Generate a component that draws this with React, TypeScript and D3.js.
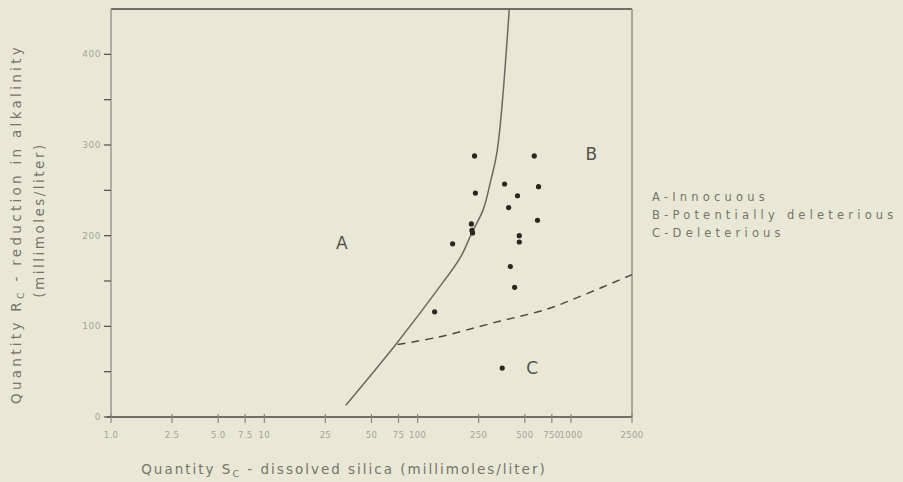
import React from "react";
import * as d3 from "d3";

// boundary between A and B (solid curve)
const boundaryAB = [
  { s: 34, r: 13 },
  { s: 72, r: 80 },
  { s: 147, r: 149 },
  { s: 190, r: 176 },
  { s: 227, r: 204 },
  { s: 268, r: 229 },
  { s: 298, r: 259 },
  { s: 331, r: 295 },
  { s: 396, r: 451 },
];

// boundary between B and C (dashed curve)
const boundaryBC = [
  { s: 74, r: 80 },
  { s: 135, r: 88 },
  { s: 331, r: 105 },
  { s: 700, r: 119 },
  { s: 1148, r: 133 },
  { s: 2500, r: 157 },
];

const samples = [
  { s: 235, r: 288 },
  { s: 576, r: 288 },
  { s: 369, r: 257 },
  { s: 614, r: 254 },
  { s: 448, r: 244 },
  { s: 238, r: 247 },
  { s: 392, r: 231 },
  { s: 605, r: 217 },
  { s: 224, r: 213 },
  { s: 226, r: 206 },
  { s: 228, r: 203 },
  { s: 169, r: 191 },
  { s: 460, r: 200 },
  { s: 460, r: 193 },
  { s: 402, r: 166 },
  { s: 429, r: 143 },
  { s: 129, r: 116 },
  { s: 356, r: 54 },
];

const xTicks = [1, 2.5, 5, 7.5, 10, 25, 50, 75, 100, 250, 500, 750, 1000, 2500];
const xTickLabels = ["1.0", "2.5", "5.0", "7.5", "10", "25", "50", "75", "100", "250", "500", "750", "1000", "2500"];
const yTicks = [0, 50, 100, 150, 200, 250, 300, 350, 400];
const yTickLabels = [0, 100, 200, 300, 400];

const zones = [
  { name: "A", s: 32, r: 192 },
  { name: "B", s: 1356, r: 290 },
  { name: "C", s: 559, r: 54 },
];
const legend = ["A-Innocuous", "B-Potentially deleterious", "C-Deleterious"];

export default function App() {
  const W = 903;
  const H = 482;
  const left = 111;
  const right = 632;
  const top = 9;
  const bottom = 417;

  const x = d3.scaleLog().domain([1, 2500]).range([left, right]);
  const y = d3.scaleLinear().domain([0, 450]).range([bottom, top]);

  const line = d3
    .line<{ s: number; r: number }>()
    .x((d) => x(d.s))
    .y((d) => y(d.r))
    .curve(d3.curveCatmullRom.alpha(0.5));

  const font = "'DejaVu Sans', sans-serif";
  const tickColor = "#a3a397";
  const textColor = "#76746b";

  return (
    <svg
      width={W}
      height={H}
      style={{ position: "absolute", left: 0, top: 0 }}
      fontFamily={font}
    >
      <rect width={W} height={H} fill="#e9e8d6" />

      {/* frame */}
      <line x1={left} x2={right} y1={top} y2={top} stroke="#4a4541" strokeWidth={1.3} />
      <line x1={right} x2={right} y1={top} y2={bottom} stroke="#8d8a82" strokeWidth={1.4} />
      <line x1={left} x2={left} y1={top} y2={bottom} stroke="#8d8a82" strokeWidth={1.3} />
      <line x1={left - 4} x2={right} y1={bottom} y2={bottom} stroke="#4a4541" strokeWidth={1.3} />

      {/* y axis */}
      {yTicks.map((t) => (
        <line key={"yt" + t} x1={left - 7} x2={left} y1={y(t)} y2={y(t)} stroke="#5d5852" strokeWidth={1.3} />
      ))}
      {yTickLabels.map((t) => (
        <text
          key={"yl" + t}
          x={left - 10}
          y={y(t)}
          dy="0.35em"
          textAnchor="end"
          fontSize={9}
          fill={tickColor}
          letterSpacing={0.5}
        >
          {t}
        </text>
      ))}

      {/* x axis */}
      {xTicks.map((t, i) => (
        <g key={"xt" + t}>
          <line x1={x(t)} x2={x(t)} y1={bottom - 3} y2={bottom + 6} stroke="#8a867e" strokeWidth={1.2} />
          <text
            x={x(t)}
            y={bottom + 21}
            textAnchor="middle"
            fontSize={8.5}
            fill={tickColor}
            letterSpacing={0.3}
          >
            {xTickLabels[i]}
          </text>
        </g>
      ))}

      {/* boundaries */}
      <path d={line(boundaryAB) || ""} fill="none" stroke="#6c6862" strokeWidth={1.5} />
      <path
        d={line(boundaryBC) || ""}
        fill="none"
        stroke="#4e4a45"
        strokeWidth={1.5}
        strokeDasharray="8,6"
      />

      {/* samples */}
      {samples.map((d, i) => (
        <circle key={"p" + i} cx={x(d.s)} cy={y(d.r)} r={2.6} fill="#2c2622" />
      ))}

      {/* zone labels */}
      {zones.map((z) => (
        <text
          key={z.name}
          x={x(z.s)}
          y={y(z.r)}
          dy="0.35em"
          textAnchor="middle"
          fontSize={17}
          fill="#55524c"
        >
          {z.name}
        </text>
      ))}

      {/* legend */}
      {legend.map((l, i) => (
        <text
          key={l}
          x={652}
          y={201 + i * 18}
          fontSize={11.5}
          fill={textColor}
          letterSpacing={4.2}
        >
          {l}
        </text>
      ))}

      {/* axis titles */}
      <text
        transform="translate(21,224) rotate(-90)"
        textAnchor="middle"
        fontSize={13.5}
        fill={textColor}
        letterSpacing={3.3}
      >
        Quantity R
        <tspan fontSize={9.5} dy={3}>C</tspan>
        <tspan dy={-3}> - reduction in alkalinity</tspan>
      </text>
      <text
        transform="translate(44,220) rotate(-90)"
        textAnchor="middle"
        fontSize={13.5}
        fill={textColor}
        letterSpacing={2.5}
      >
        (millimoles/liter)
      </text>
      <text
        x={344}
        y={474}
        textAnchor="middle"
        fontSize={13.5}
        fill={textColor}
        letterSpacing={2}
      >
        Quantity S
        <tspan fontSize={9.5} dy={3}>C</tspan>
        <tspan dy={-3}> - dissolved silica (millimoles/liter)</tspan>
      </text>
    </svg>
  );
}
